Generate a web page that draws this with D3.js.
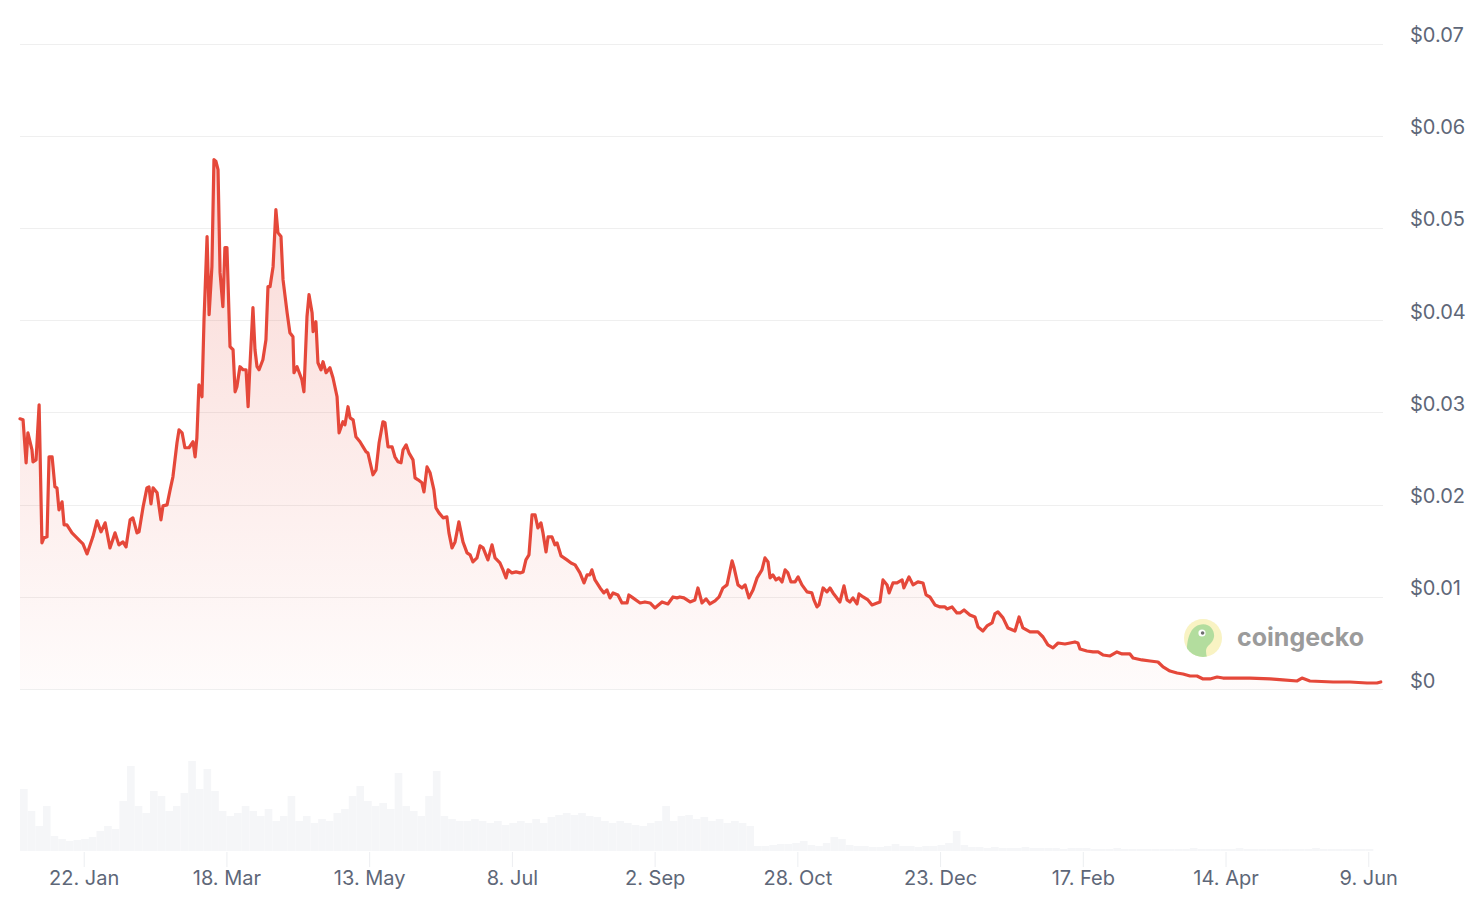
<!DOCTYPE html>
<html>
<head>
<meta charset="utf-8">
<script src="https://cdn.jsdelivr.net/npm/d3@7"></script>
<style>
  html, body { margin: 0; padding: 0; background: #ffffff; }
  svg { display: block; font-family: Inter, "Noto Sans", "DejaVu Sans", sans-serif; }
</style>
</head>
<body>
<svg id="chart" width="1482" height="898"></svg>
<script>
// ---------------- DATA ----------------
const startDate = "2023-12-28";
const endDate = "2025-06-14";

// days since startDate
const dayOffsets = [
  0.0,1.2,2.4,3.1,4.7,5.1,6.3,7.5,8.6,9.4,10.6,11.4,12.6,13.7,14.5,15.3,16.5,17.3,18.4,20.4,
  23.5,24.7,26.3,28.6,30.2,31.8,33.4,35.3,37.3,38.8,40.4,41.6,43.2,44.3,45.9,46.7,48.3,49.8,50.6,51.4,
  52.2,53.8,55.3,56.1,57.7,58.9,60.0,61.6,62.4,63.6,64.7,66.3,67.9,68.7,69.4,70.2,71.4,72.2,73.4,74.2,
  75.3,76.1,76.9,77.7,78.5,79.6,80.4,81.2,82.4,83.6,84.4,85.1,86.3,87.5,88.7,89.5,90.2,91.4,92.2,93.0,
  93.8,95.3,96.5,97.3,98.1,99.3,100.4,101.2,102.4,103.2,104.8,105.9,107.1,107.5,108.7,110.6,111.4,112.6,113.4,114.6,
  115.0,116.1,116.9,118.1,118.9,120.1,121.6,122.8,124.4,125.2,126.7,127.5,128.7,129.5,130.7,131.8,133.4,134.6,135.8,136.5,
  138.5,139.7,140.9,142.4,143.2,144.4,146.0,147.1,148.3,149.5,150.3,151.5,152.6,154.2,155.0,156.2,157.7,158.5,159.7,160.9,
  162.4,163.2,164.4,166.0,167.5,168.3,169.5,170.7,172.2,173.8,175.4,176.6,177.7,179.3,180.5,181.7,183.6,185.2,186.4,188.3,
  189.5,190.7,191.5,193.0,194.6,196.2,197.4,198.5,199.7,200.9,202.1,203.2,204.4,205.2,206.4,207.2,208.7,209.9,210.7,212.3,
  214.6,216.2,217.8,219.7,221.3,222.5,223.6,224.4,225.6,227.6,229.1,230.3,231.5,232.7,234.6,236.2,238.2,238.9,240.5,243.3,
  245.2,247.2,249.1,251.9,254.2,256.2,257.8,258.9,260.5,262.9,264.8,266.0,267.6,269.2,270.7,272.7,274.3,275.8,277.4,279.4,
  280.1,281.7,283.3,284.5,286.0,287.6,289.2,291.1,292.3,293.5,294.3,295.4,296.6,297.8,299.0,300.2,301.3,302.5,304.1,305.3,
  306.8,308.8,310.7,311.5,312.7,313.5,315.1,316.6,317.8,319.0,321.7,323.3,324.5,325.6,326.8,328.4,329.2,330.8,332.7,334.3,
  336.3,337.4,338.6,340.2,341.0,342.5,344.1,346.1,346.8,348.8,350.4,352.3,354.3,355.5,357.0,359.0,361.0,362.9,363.7,365.7,
  367.6,368.8,370.4,372.7,374.7,375.9,377.8,379.4,381.4,382.5,383.7,385.7,387.6,390.4,392.0,393.5,396.3,399.4,401.4,403.3,
  405.3,407.3,410.0,412.0,413.9,415.1,415.9,418.6,421.0,423.0,424.9,427.7,430.4,432.4,435.5,436.7,440.2,443.4,446.5,448.5,
  451.2,454.0,456.3,459.1,461.8,464.2,466.9,469.7,472.0,482.6,490.5,495.5,501.1,503.0,506.1,515.2,521.8,528.5,532.4,533.9
];

// price in USD
const prices = [
  0.02930,0.02919,0.02453,0.02778,0.02594,0.02464,0.02485,0.03082,0.01585,0.01639,0.01650,0.02518,0.02518,0.02192,0.02181,0.01943,0.02030,0.01780,0.01780,0.01693,
  0.01606,0.01574,0.01465,0.01650,0.01823,0.01704,0.01802,0.01530,0.01693,0.01563,0.01595,0.01541,0.01834,0.01856,0.01693,0.01704,0.01975,0.02181,0.02192,0.02008,
  0.02181,0.02127,0.01834,0.01986,0.01997,0.02160,0.02301,0.02670,0.02811,0.02778,0.02616,0.02616,0.02681,0.02518,0.02724,0.03299,0.03169,0.04005,0.04906,0.04059,
  0.04580,0.05741,0.05720,0.05633,0.04515,0.04146,0.04786,0.04786,0.03712,0.03679,0.03223,0.03278,0.03495,0.03462,0.03462,0.03061,0.03495,0.04135,0.03679,0.03495,
  0.03462,0.03571,0.03788,0.04363,0.04363,0.04580,0.05199,0.04949,0.04906,0.04439,0.04081,0.03864,0.03820,0.03430,0.03495,0.03354,0.03223,0.04037,0.04276,0.04081,
  0.03875,0.03983,0.03538,0.03462,0.03549,0.03430,0.03484,0.03375,0.03169,0.02778,0.02898,0.02865,0.03061,0.02941,0.02919,0.02735,0.02681,0.02626,0.02572,0.02561,
  0.02323,0.02377,0.02670,0.02898,0.02887,0.02626,0.02626,0.02518,0.02464,0.02453,0.02594,0.02648,0.02561,0.02485,0.02290,0.02268,0.02236,0.02138,0.02409,0.02344,
  0.02160,0.01964,0.01910,0.01856,0.01867,0.01693,0.01530,0.01595,0.01812,0.01595,0.01476,0.01454,0.01378,0.01422,0.01552,0.01530,0.01400,0.01563,0.01422,0.01367,
  0.01292,0.01205,0.01292,0.01259,0.01270,0.01259,0.01270,0.01400,0.01454,0.01888,0.01888,0.01747,0.01802,0.01693,0.01487,0.01650,0.01650,0.01563,0.01585,0.01443,
  0.01400,0.01367,0.01346,0.01259,0.01150,0.01237,0.01237,0.01292,0.01183,0.01096,0.01042,0.01074,0.00988,0.01042,0.01020,0.00933,0.00933,0.01020,0.00988,0.00933,
  0.00944,0.00933,0.00879,0.00944,0.00922,0.00998,0.00988,0.00998,0.00988,0.00944,0.00966,0.01096,0.00933,0.00977,0.00922,0.00955,0.00998,0.01096,0.01129,0.01389,
  0.01324,0.01129,0.01096,0.01129,0.00988,0.01074,0.01205,0.01292,0.01422,0.01378,0.01205,0.01237,0.01183,0.01205,0.01161,0.01292,0.01259,0.01161,0.01161,0.01216,
  0.01129,0.01053,0.01042,0.00966,0.00890,0.00912,0.01096,0.01053,0.01096,0.01042,0.00944,0.01118,0.00966,0.00944,0.00988,0.00922,0.01031,0.00998,0.00966,0.00912,
  0.00933,0.00944,0.01183,0.01129,0.01042,0.01150,0.01150,0.01183,0.01096,0.01216,0.01129,0.01161,0.01150,0.01020,0.00998,0.00912,0.00890,0.00890,0.00868,0.00890,
  0.00825,0.00825,0.00857,0.00803,0.00781,0.00673,0.00629,0.00684,0.00716,0.00814,0.00836,0.00771,0.00662,0.00629,0.00781,0.00662,0.00619,0.00619,0.00564,0.00478,
  0.00445,0.00499,0.00488,0.00499,0.00510,0.00499,0.00434,0.00412,0.00402,0.00402,0.00369,0.00358,0.00402,0.00380,0.00380,0.00336,0.00315,0.00304,0.00293,0.00239,
  0.00195,0.00174,0.00163,0.00141,0.00141,0.00109,0.00109,0.00130,0.00119,0.00119,0.00109,0.00098,0.00087,0.00119,0.00087,0.00076,0.00076,0.00065,0.00065,0.00076
];

// trading volume (relative units), one value per 3-day bucket from startDate
const volumeStepDays = 3;
const volumes = [
  62,40,25,45,15,12,10,11,12,14,20,25,22,50,85,45,38,60,55,40,
  45,58,90,62,82,60,40,35,38,45,40,35,42,30,35,55,30,35,28,32,
  30,38,42,55,65,50,45,48,42,78,45,40,35,55,80,35,32,30,30,32,
  30,28,30,26,28,30,28,32,28,34,36,38,36,38,35,34,30,28,30,28,
  26,25,28,30,45,30,35,36,32,34,30,32,28,30,28,25,5,5,6,7,
  7,8,10,6,5,8,14,12,6,5,5,4,4,5,7,5,5,4,5,5,
  6,8,20,6,4,4,3,4,3,3,3,4,3,3,3,3,2,3,3,3,
  2,2,2,3,2,2,2,2,2,2,2,2,2,3,2,2,2,2,2,3,
  2,2,2,2,2,2,2,2,2,3,2,2,2,2,2,2,2
];

const xTickDates = ["2024-01-22","2024-03-18","2024-05-13","2024-07-08","2024-09-02",
                    "2024-10-28","2024-12-23","2025-02-17","2025-04-14","2025-06-09"];
const yTickValues = [0, 0.01, 0.02, 0.03, 0.04, 0.05, 0.06, 0.07];
const watermarkText = "coingecko";

// ---------------- CHART ----------------
const FONT = 'Inter, "Noto Sans", "DejaVu Sans", sans-serif';
const svg = d3.select("#chart");
const parse = d3.utcParse("%Y-%m-%d");
const t0 = parse(startDate), t1 = parse(endDate);
const DAY = 864e5;

const series = dayOffsets.map((d, i) => ({ date: new Date(t0.getTime() + d * DAY), price: prices[i] }));

const x = d3.scaleUtc().domain([t0, t1]).range([20, 1381]);
const y = d3.scaleLinear().domain([0, 0.07]).range([689, 43.5]);
const yVol = d3.scaleLinear().domain([0, 100]).range([851, 751]);

// gradient
const defs = svg.append("defs");
const grad = defs.append("linearGradient")
  .attr("id", "areaGrad").attr("gradientUnits", "userSpaceOnUse")
  .attr("x1", 0).attr("x2", 0).attr("y1", y(0.058)).attr("y2", y(0));
grad.append("stop").attr("offset", 0).attr("stop-color", "rgb(231,76,60)").attr("stop-opacity", 0.22);
grad.append("stop").attr("offset", 1).attr("stop-color", "rgb(231,76,60)").attr("stop-opacity", 0.02);

// gridlines
svg.append("g").selectAll("line").data(yTickValues).join("line")
  .attr("x1", 20).attr("x2", 1383)
  .attr("y1", d => Math.round(y(d)) + 0.5).attr("y2", d => Math.round(y(d)) + 0.5)
  .attr("stroke", "#efefef").attr("stroke-width", 1);

// volume bars
svg.append("g").selectAll("rect").data(volumes).join("rect")
  .attr("x", (v, i) => x(new Date(t0.getTime() + i * volumeStepDays * DAY)))
  .attr("width", (v, i) => x(new Date(t0.getTime() + (i + 1) * volumeStepDays * DAY)) - x(new Date(t0.getTime() + i * volumeStepDays * DAY)))
  .attr("y", v => yVol(v))
  .attr("height", v => yVol(0) - yVol(v))
  .attr("fill", "#f5f6f8");

// area + line
svg.append("path").datum(series)
  .attr("d", d3.area().x(d => x(d.date)).y0(y(0)).y1(d => y(d.price)))
  .attr("fill", "url(#areaGrad)");

svg.append("path").datum(series)
  .attr("d", d3.line().x(d => x(d.date)).y(d => y(d.price)))
  .attr("fill", "none").attr("stroke", "#e5483a").attr("stroke-width", 3.2)
  .attr("stroke-linejoin", "round").attr("stroke-linecap", "round");

// x axis
const xAxis = d3.axisBottom(x)
  .tickValues(xTickDates.map(parse))
  .tickFormat(d3.utcFormat("%-d. %b"))
  .tickSize(15).tickPadding(5);
const gx = svg.append("g").attr("transform", "translate(0,852)").call(xAxis)
  .attr("font-family", FONT).attr("font-size", 20);
gx.select(".domain").remove();
gx.selectAll(".tick line").attr("stroke", "#eceef1");
gx.selectAll(".tick text").attr("fill", "#5e6778")
  .attr("y", 33).attr("dy", 0);

// y axis (right)
const yAxis = d3.axisRight(y).tickValues(yTickValues)
  .tickFormat(d => d === 0 ? "$0" : "$" + d.toFixed(2)).tickSize(0).tickPadding(0);
const gy = svg.append("g").attr("transform", "translate(1410,0)").call(yAxis)
  .attr("font-family", FONT).attr("font-size", 20);
gy.select(".domain").remove();
gy.selectAll(".tick text").attr("fill", "#5e6778")
  .attr("text-anchor", "start").attr("dy", 0).attr("y", -2);

// watermark
const wm = svg.append("g").attr("opacity", 0.85);
wm.append("circle").attr("cx", 1203).attr("cy", 638).attr("r", 19).attr("fill", "#f8f1b9");
const clip = defs.append("clipPath").attr("id", "logoClip");
clip.append("circle").attr("cx", 1203).attr("cy", 638).attr("r", 19);
wm.append("path").attr("clip-path", "url(#logoClip)")
  .attr("d", "M1187,660 C1186,645 1188,628 1199,625 C1209,622 1215,630 1214,637 C1213,644 1206,645 1206,651 C1206,656 1208,660 1209,662 Z")
  .attr("fill", "#a6d88e");
wm.append("circle").attr("cx", 1202).attr("cy", 633).attr("r", 3.6).attr("fill", "#ffffff");
wm.append("circle").attr("cx", 1202.6).attr("cy", 633).attr("r", 1.8).attr("fill", "#555");
wm.append("text").attr("x", 1237).attr("y", 646).text(watermarkText)
  .attr("font-family", FONT)
  .attr("fill", "#8a8a8a").style("font-size", "25px").style("font-weight", 700);
</script>
</body>
</html>
